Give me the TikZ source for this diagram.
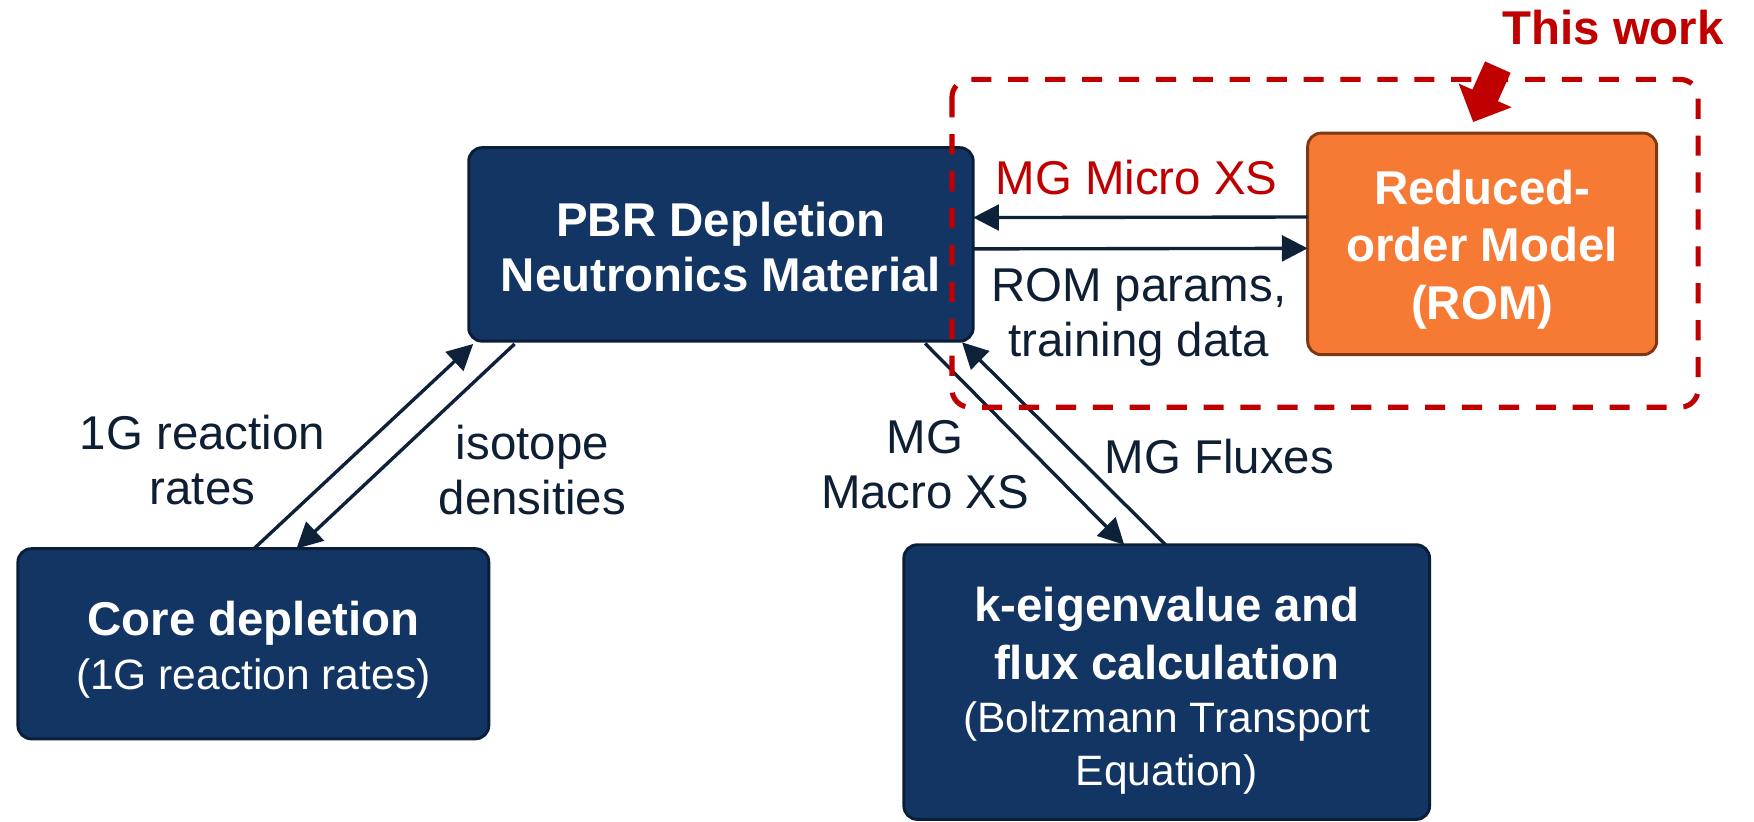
\documentclass[tikz,border=0pt]{standalone}
\usepackage{fontspec}
\setmainfont{Liberation Sans}
\usetikzlibrary{arrows.meta}
\definecolor{navyfill}{HTML}{133563}
\definecolor{navyline}{HTML}{0B1E38}
\definecolor{arrowc}{HTML}{0D2138}
\definecolor{labelc}{HTML}{0E1E33}
\definecolor{romfill}{HTML}{F77A34}
\definecolor{romline}{HTML}{7B3812}
\definecolor{workred}{HTML}{C00000}
\tikzset{
  navybox/.style={draw=navyline, fill=navyfill, line width=1.3pt, rounded corners=6pt,
    inner sep=0pt, outer sep=0pt, text=white, align=center},
  rombox/.style={draw=romline, fill=romfill, line width=1.3pt, rounded corners=6pt,
    inner sep=0pt, outer sep=0pt, text=white, align=center},
  boldtxt/.style={font=\fontsize{21.2}{24.5}\selectfont\bfseries},
  lbl/.style={text=labelc, align=center, inner sep=0pt, font=\fontsize{21.2}{24.5}\selectfont},
  conn/.style={draw=arrowc, line width=1.5pt, -{Triangle[length=11.5pt,width=11.5pt]}},
  workbox/.style={draw=workred, line width=2.3pt, dash pattern=on 9pt off 7.5pt, rounded corners=8pt},
}
\newcommand{\subtxt}{\fontsize{19}{23}\selectfont\mdseries}
\begin{document}
\begin{tikzpicture}[x=0.5pt, y=-0.5pt]
\useasboundingbox (0,0) rectangle (1568,734);

% boxes
\node[navybox, boldtxt, minimum width=225.5pt, minimum height=86.5pt] (pbr) at (644.5,218.5)
  {\rule{0pt}{17.5pt}PBR Depletion\\Neutronics Material};
\node[rombox, font=\fontsize{21.2}{25.75}\selectfont\bfseries, minimum width=156pt, minimum height=99pt] (rom) at (1325,218)
  {\rule{0pt}{20.5pt}Reduced-\\order Model\\(ROM)};
\node[navybox, font=\fontsize{21.2}{24}\selectfont\bfseries, minimum width=210.5pt, minimum height=85pt] (core) at (226.5,575.5)
  {\rule{0pt}{20.5pt}Core depletion\\{\subtxt (1G reaction rates)}};
\node[navybox, font=\fontsize{21.2}{26}\selectfont\bfseries, minimum width=235pt, minimum height=122.75pt] (keig) at (1043,609.75)
  {\rule{0pt}{23pt}k-eigenvalue and\\flux calculation\\[-2.5pt]{\subtxt (Boltzmann Transport}\\[-2.5pt]{\subtxt Equation)}};

% connectors
\draw[conn] ([yshift=12pt]rom.west) -- ([yshift=12pt]pbr.east);
\draw[conn] ([yshift=-2pt]pbr.east) -- ([yshift=-2pt]rom.west);
\draw[conn] ([xshift=0.25pt]core.north) -- ([xshift=2pt,yshift=-1.25pt]pbr.south west);
\draw[conn] ([xshift=20.5pt,yshift=-1.25pt]pbr.south west) -- ([xshift=19.25pt]core.north);
\draw[conn] ([xshift=-21.5pt,yshift=-1pt]pbr.south east) -- ([xshift=-19pt]keig.north);
\draw[conn] ([xshift=-0.5pt]keig.north) -- ([xshift=-5pt,yshift=-0.5pt]pbr.south east);

% labels
\node[lbl, text=workred] (microlbl) at (1016,159) {MG Micro XS};
\node[lbl] (paramslbl) at (1018,284) {ROM params,\\training data};
\node[lbl] (rateslbl) at (181,411) {1G reaction\\rates};
\node[lbl] (isolbl) at (476,420.5) {isotope\\densities};
\node[lbl] (macrolbl) at (827,415.5) {MG\\Macro XS};
\node[lbl] (fluxlbl) at (1090,408) {MG Fluxes};

% this work region
\draw[workbox] (851,71) rectangle (1518,364);
\node[lbl, text=workred, font=\fontsize{21.2}{24.5}\selectfont\bfseries] (worklbl) at (1442,25) {This work};
\coordinate (wa1) at (1350.4,65.1);
\coordinate (wa2) at (1339.05,90.4);
\coordinate (wa3) at (1351.4,95.9);
\coordinate (wa4) at (1317,109);
\coordinate (wa5) at (1303.9,74.6);
\coordinate (wa6) at (1316.25,80.15);
\coordinate (wa7) at (1327.6,54.9);
\fill[workred] (wa1) -- (wa2) -- (wa3) -- (wa4) -- (wa5) -- (wa6) -- (wa7) -- cycle;
\end{tikzpicture}
\end{document}
